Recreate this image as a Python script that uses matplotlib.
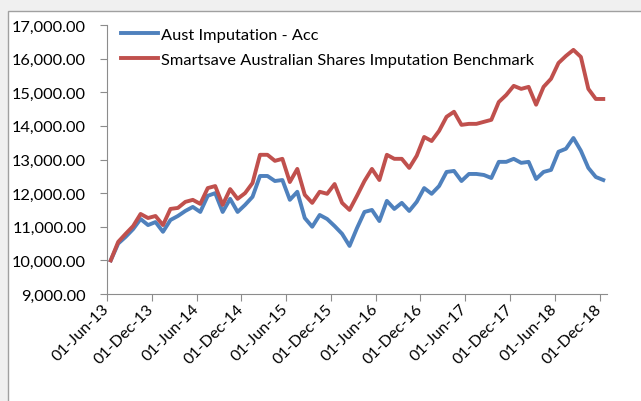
import matplotlib
matplotlib.use("Agg")
import matplotlib.pyplot as plt
from matplotlib.patches import Rectangle
from matplotlib.transforms import ScaledTranslation

dates = []
for y in range(13, 19):
    for m in ["Jan", "Feb", "Mar", "Apr", "May", "Jun", "Jul", "Aug", "Sep", "Oct", "Nov", "Dec"]:
        dates.append(f"01-{m}-{y}")
dates = dates[5:]  # Jun-13 .. Dec-18 (67 months)

aust_imputation = [
    10000, 10500, 10700, 10930, 11230, 11050, 11140, 10850, 11200, 11320,
    11470, 11590, 11440, 11920, 12000, 11440, 11830, 11440, 11650, 11890,
    12510, 12510, 12360, 12390, 11800, 12040, 11260, 11000, 11350, 11230,
    11020, 10790, 10430, 10960, 11440, 11500, 11170, 11770, 11530, 11710,
    11470, 11740, 12150, 11980, 12210, 12630, 12660, 12360, 12570, 12570,
    12540, 12450, 12930, 12930, 13020, 12900, 12930, 12420, 12630, 12690,
    13230, 13320, 13640, 13260, 12750, 12480, 12390,
]
benchmark = [
    10000, 10550, 10790, 11020, 11380, 11260, 11320, 11050, 11530, 11560,
    11740, 11800, 11680, 12150, 12210, 11650, 12120, 11830, 12000, 12300,
    13140, 13140, 12960, 13020, 12330, 12720, 11950, 11710, 12040, 11980,
    12270, 11710, 11500, 11920, 12360, 12720, 12390, 13140, 13020, 13020,
    12750, 13110, 13670, 13550, 13850, 14270, 14420, 14030, 14060, 14060,
    14120, 14180, 14710, 14920, 15190, 15100, 15160, 14630, 15160, 15400,
    15870, 16080, 16260, 16050, 15100, 14800, 14800,
]
series_names = ["Aust Imputation - Acc", "Smartsave Australian Shares Imputation Benchmark"]
y_ticks = [9000, 10000, 11000, 12000, 13000, 14000, 15000, 16000, 17000]

plt.rcParams['font.family'] = ['Lato', 'DejaVu Sans']

fig = plt.figure(figsize=(6.41, 4.02), dpi=100, facecolor='#f0f0f0')
fig.patches.append(Rectangle((8/641, -0.2), 2.0, 1.2 - 12/402, transform=fig.transFigure,
                             facecolor='white', edgecolor='#a0a0a0', linewidth=1.0, zorder=-10))
ax = fig.add_axes([107/641, 1 - 295/402, 500/641, 269/402])
ax.set_facecolor('none')

x = list(range(len(dates)))
ax.plot(x, aust_imputation, color='#4F81BD', lw=2.8, label=series_names[0], solid_joinstyle='round')
ax.plot(x, benchmark, color='#C0504D', lw=2.8, label=series_names[1], solid_joinstyle='round')

ax.set_xlim(-0.5, len(dates) - 0.5)
ax.set_ylim(9000, 17000)
ax.set_yticks(y_ticks)
ax.set_yticklabels([f"{v:,.2f}" for v in y_ticks], fontsize=11.8)
tick_pos = [i - 0.5 for i in range(0, len(dates), 6)]
ax.set_xticks(tick_pos)
ax.set_xticklabels([dates[i] for i in range(0, len(dates), 6)], rotation=45, ha='right',
                   va='center', rotation_mode='anchor', fontsize=11.5)
off = ScaledTranslation(11/100, 0, fig.dpi_scale_trans)
for lbl in ax.get_xticklabels():
    lbl.set_transform(lbl.get_transform() + off)
for s in ['top', 'right']:
    ax.spines[s].set_visible(False)
for s in ['left', 'bottom']:
    ax.spines[s].set_color('#8c8c8c')
ax.tick_params(axis='both', color='#8c8c8c', length=5, labelcolor='black')
ax.tick_params(axis='y', pad=10)
ax.tick_params(axis='x', pad=4)

ax.legend(loc='upper left', bbox_to_anchor=(14/500, 0.99), frameon=False, fontsize=11.8,
          handlelength=2.25, handletextpad=0.2, labelspacing=0.63, borderaxespad=0, borderpad=0)

fig.savefig("out.png", dpi=100, facecolor=fig.get_facecolor())
